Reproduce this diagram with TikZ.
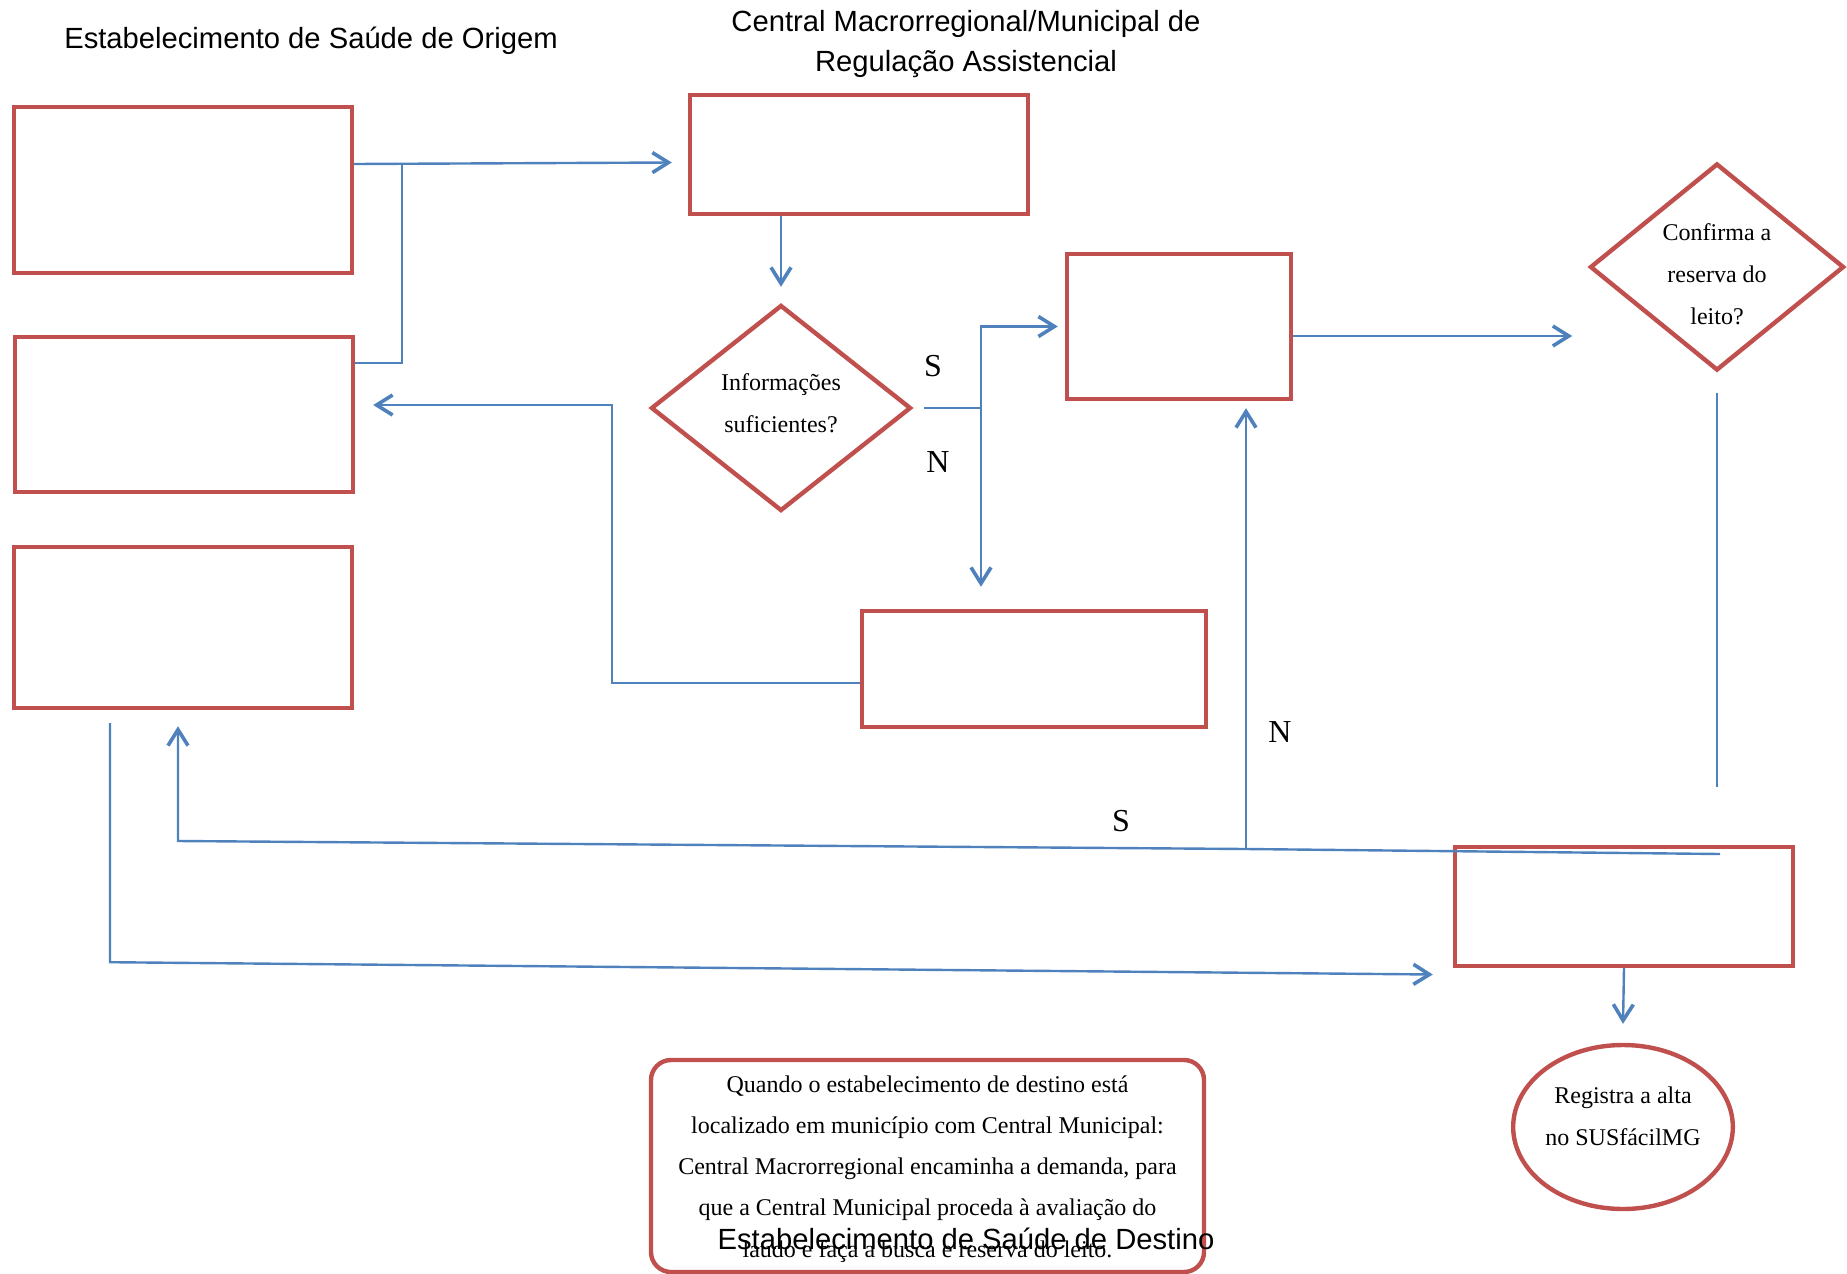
\documentclass[tikz,border=0pt]{standalone}
\usepackage{fontspec}
\setmainfont{Liberation Serif}
\setsansfont{Liberation Sans}
\usetikzlibrary{shapes.geometric,arrows.meta}
\definecolor{vermelho}{HTML}{C0504D}
\definecolor{azul}{HTML}{4F81BD}

\begin{document}
\begin{tikzpicture}[x=0.5pt,y=-0.5pt,
  caixa/.style={draw=vermelho,line width=2.2pt,inner sep=0},
  losango/.style={diamond,draw=vermelho,line width=2.2pt,inner sep=0,align=center,font=\fontsize{12}{21}\selectfont},
  linha/.style={draw=azul,line width=1.2pt},
  seta/.style={linha,-{Straight Barb[length=8pt,width=10pt,line width=1.8pt]}},
  titulo/.style={font=\sffamily\fontsize{14.6}{20}\selectfont,align=center},
  rotulo/.style={font=\fontsize{16}{18}\selectfont}]
\useasboundingbox (0,0) rectangle (1847,1274);

\node[titulo] (torig) at (311,41) {Estabelecimento de Saúde de Origem};
\node[titulo] (tcent) at (966,44) {Central Macrorregional/Municipal de\\Regulação Assistencial};

\node[caixa,minimum width=169pt,minimum height=83pt] (orig1) at (183,190) {};
\node[caixa,minimum width=169pt,minimum height=77.5pt] (orig2) at (184,414.5) {};
\node[caixa,minimum width=169pt,minimum height=80.5pt] (orig3) at (183,627.5) {};
\node[caixa,minimum width=169pt,minimum height=59.5pt] (cent1) at (859,154.5) {};
\node[losango,minimum width=130pt,minimum height=103pt,text height=26.5pt,text depth=2.5pt] (info) at (781,408) {Informações\\suficientes?};
\node[caixa,minimum width=112pt,minimum height=72.5pt] (cent2) at (1179,326.5) {};
\node[losango,shape aspect=1.23,minimum width=127pt,minimum height=103.5pt,text height=57.6pt,text depth=0pt] (conf) at (1717,267) {Confirma a\\reserva do\\leito?};
\node[caixa,minimum width=172pt,minimum height=58pt] (cent3) at (1034,669) {};
\node[caixa,minimum width=169pt,minimum height=59.5pt] (dest1) at (1624,906.5) {};
\node[ellipse,draw=vermelho,line width=2.2pt,inner sep=0,minimum width=109pt,minimum height=82pt,align=center,font=\fontsize{12}{21}\selectfont,text height=23.8pt,text depth=5.4pt] (alta) at (1623,1127) {Registra a alta\\no SUSfácilMG};
\node[caixa,rounded corners=10pt,minimum width=276.5pt,minimum height=106pt,align=center,font=\fontsize{12}{20.6}\selectfont,text height=91pt,text depth=0pt] (nota) at (927.5,1166)
{Quando o estabelecimento de destino está\\
 localizado em município com Central Municipal:\\
 Central Macrorregional encaminha a demanda, para\\
 que a Central Municipal proceda à avaliação do\\
 laudo e faça a busca e reserva do leito.};

\coordinate (jun) at (402,164);
\coordinate (sim) at (981,408);
\coordinate (volta) at (1720,854);
\coordinate (cruz) at (1246,849);

\draw[seta] ([yshift=13pt]orig1.east) -- ([xshift=-8pt,yshift=-4pt]cent1.west);
\draw[linha] ([yshift=25.75pt]orig2.east) -| (jun);
\draw[seta] (cent1.south -| info.north) -- ([yshift=8pt]info.north);
\draw[linha] ([xshift=5.5pt]info.east) -- (sim);
\draw[seta] (sim) |- ([xshift=-3.5pt]cent2.west);
\draw[seta] (sim) -- ([yshift=11pt]sim |- cent3.north);
\draw[seta] ([yshift=-7pt]cent3.west) -- ++(-248,0) |- ([xshift=9pt,yshift=4.75pt]orig2.east);
\draw[seta] ([yshift=-4.75pt]cent2.east) -- ++(279,0);
\draw[linha,line width=1pt] ([yshift=-10pt]conf.south) -- ++(0,394);
\draw[linha] (volta) -- (cruz);
\draw[seta] (cruz) -- ([yshift=-3.5pt]cruz |- cent2.south);
\draw[seta] (cruz) -- (178,841) -- ([xshift=-2.5pt,yshift=-8pt]orig3.south);
\draw[seta] ([xshift=-36.5pt,yshift=-6.5pt]orig3.south) -- ++(0,239) -- ([xshift=-10pt,yshift=-34pt]dest1.west);
\draw[seta] (dest1.south) -- ([yshift=9.5pt]alta.north);

\node[rotulo] (s1) at (933,366) {S};
\node[rotulo] (n1) at (938,462) {N};
\node[rotulo] (n2) at (1280,732) {N};
\node[rotulo] (s2) at (1121,821) {S};

\node[titulo] (tdest) at (966,1239) {Estabelecimento de Saúde de Destino};
\end{tikzpicture}
\end{document}
